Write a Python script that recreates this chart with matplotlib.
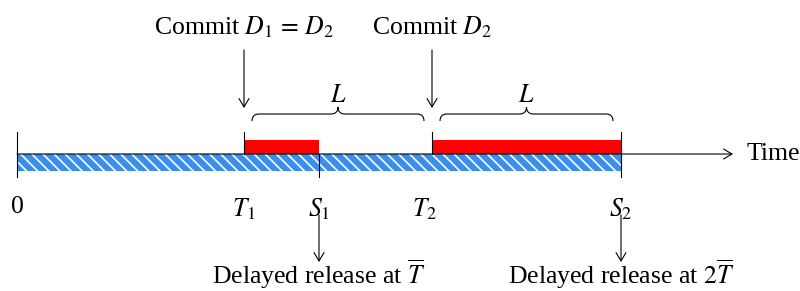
import matplotlib.pyplot as plt
from matplotlib.patches import Rectangle, PathPatch
from matplotlib.path import Path

plt.rcParams['font.family'] = ['Liberation Serif', 'DejaVu Serif']
plt.rcParams['mathtext.fontset'] = 'stix'
plt.rcParams['hatch.linewidth'] = 1.2

# Time points on the axis (horizontal units)
tick_labels = ['0', '$T_1$', '$S_1$', '$T_2$', '$S_2$']
tick_times = [0.0, 2.27, 3.02, 4.15, 6.04]
time_end = 7.16

# Red (locked) intervals
red_starts = [2.27, 4.15]
red_ends = [3.02, 6.04]

# Braces of length L
brace_starts = [2.27, 4.15]
brace_ends = [4.15, 6.04]
brace_label = '$L$'

# Commit events (arrows from above) and releases (arrows below)
commit_times = [2.27, 4.15]
commit_labels = ['Commit $D_1\\,=\\,D_2$', 'Commit $D_2$']
release_times = [3.02, 6.04]
release_labels = ['Delayed release at $\\overline{T}$', 'Delayed release at $2\\overline{T}$']

fs = 18.5
lc = 'black'
lw = 0.8

fig = plt.figure(figsize=(8, 2.91), dpi=100)
ax = fig.add_axes([0, 0, 1, 1])
ax.set_xlim(-0.17, 7.83)
ax.set_ylim(291, 0)
ax.axis('off')

y_line = 154

# blue hatched bar under the time line
ax.add_patch(Rectangle((tick_times[0], y_line), tick_times[-1] - tick_times[0], 17,
                       facecolor='#3a8eed', edgecolor='white', hatch='\\\\\\', linewidth=0, zorder=1))

# red bars above the time line
for s, e in zip(red_starts, red_ends):
    ax.add_patch(Rectangle((s, 140), e - s, y_line - 140, facecolor='#ff0000',
                           edgecolor='none', zorder=2))

# time axis with arrow
ax.annotate('', xy=(time_end, y_line), xytext=(tick_times[0], y_line),
            arrowprops=dict(arrowstyle='->,head_length=0.5,head_width=0.3', lw=lw,
                            color=lc, shrinkA=0, shrinkB=0, mutation_scale=12), zorder=3)
ax.text(time_end + 0.14, y_line, 'Time', fontsize=fs, va='center', ha='left')

# tick marks (top part / bottom part)
tick_top = [True, True, False, True, True]
tick_bot = [True, False, True, False, True]
for t, up, down in zip(tick_times, tick_top, tick_bot):
    y0 = 132 if up else y_line
    y1 = 177 if down else y_line
    ax.plot([t, t], [y0, y1], color=lc, lw=lw, zorder=4)

# tick labels below
for t, lab in zip(tick_times, tick_labels):
    dx = -0.08 if lab == '$T_2$' else 0
    ax.text(t + dx, 196, lab, fontsize=fs, ha='center', va='top')

# braces
def brace(x0, x1, y_end=121, y_flat=114, y_tip=107, r=0.07):
    xm = (x0 + x1) / 2
    verts = [(x0, y_end), (x0, y_flat), (x0 + r, y_flat),
             (xm - r, y_flat), (xm, y_flat), (xm, y_tip),
             (xm, y_flat), (xm + r, y_flat),
             (x1 - r, y_flat), (x1, y_flat), (x1, y_end)]
    codes = [Path.MOVETO, Path.CURVE3, Path.CURVE3,
             Path.LINETO, Path.CURVE3, Path.CURVE3,
             Path.CURVE3, Path.CURVE3,
             Path.LINETO, Path.CURVE3, Path.CURVE3]
    return Path(verts, codes)

inset = 0.08
for s, e in zip(brace_starts, brace_ends):
    ax.add_patch(PathPatch(brace(s + inset, e - inset), facecolor='none',
                           edgecolor=lc, lw=lw))
    ax.text((s + e) / 2, 102, brace_label, fontsize=fs, ha='center', va='baseline')

# commit arrows from above
for t, lab in zip(commit_times, commit_labels):
    ax.text(t, 34, lab, fontsize=fs, ha='center', va='baseline')
    ax.annotate('', xy=(t, 108), xytext=(t, 50),
                arrowprops=dict(arrowstyle='->,head_length=0.5,head_width=0.3', lw=lw,
                                color=lc, shrinkA=0, shrinkB=0, mutation_scale=12))

# delayed release arrows below
for t, lab in zip(release_times, release_labels):
    ax.annotate('', xy=(t, 262), xytext=(t, 215),
                arrowprops=dict(arrowstyle='->,head_length=0.5,head_width=0.3', lw=lw,
                                color=lc, shrinkA=0, shrinkB=0, mutation_scale=12))
    ax.text(t, 284, lab, fontsize=fs, ha='center', va='baseline')

fig.savefig('out.png', dpi=100)
